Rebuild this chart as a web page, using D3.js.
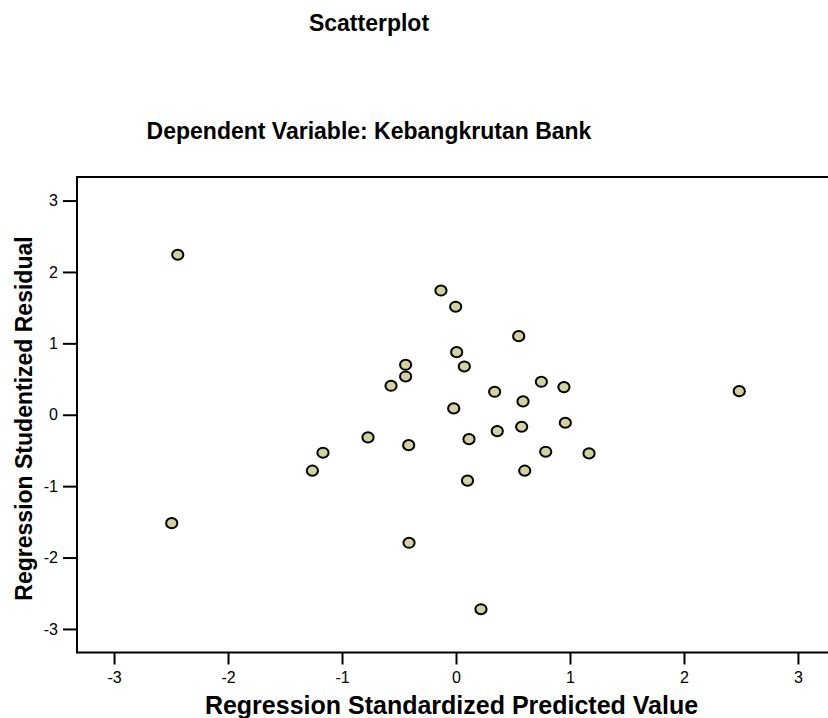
<!DOCTYPE html>
<html>
<head>
<meta charset="utf-8">
<script src="https://cdn.jsdelivr.net/npm/d3@7"></script>
<style>
  html, body { margin: 0; padding: 0; background: #fff; }
  svg { display: block; }
</style>
</head>
<body>
<svg id="chart" width="828" height="718"></svg>
<script>
const predicted = [-2.441, -2.494, -0.132, -0.003, 0.55, 0.006, 0.073, -0.442, -0.442, -0.570,
  0.339, -0.020, -0.772, -0.415, -1.167, -1.260, 0.114, 0.362, 0.101, 0.749,
  0.947, 0.588, 0.576, 0.959, 0.787, 1.167, 0.603, 2.485, -0.412, 0.219];
const residual = [2.241, -1.518, 1.74, 1.513, 1.101, 0.877, 0.676, 0.70, 0.536, 0.406,
  0.322, 0.088, -0.318, -0.426, -0.532, -0.784, -0.342, -0.230, -0.924, 0.462,
  0.387, 0.186, -0.168, -0.112, -0.518, -0.542, -0.784, 0.330, -1.793, -2.724];
const tickValues = [-3, -2, -1, 0, 1, 2, 3];
const chartTitle = "Scatterplot";
const chartSubtitle = "Dependent Variable: Kebangkrutan Bank";
const xLabel = "Regression Standardized Predicted Value";
const yLabel = "Regression Studentized Residual";

(function () {
  const svg = d3.select("#chart");
  const pLeft = 77, pTop = 177, pBottom = 652.5, pRight = 835;
  const font = "'Liberation Sans', Arial, Helvetica, sans-serif";

  const x = d3.scaleLinear().domain([-3.325, 3.325]).range([pLeft, pRight]);
  const y = d3.scaleLinear().domain([-3.33, 3.33]).range([pBottom, pTop]);

  // titles
  svg.append("text").attr("x", 369).attr("y", 31).attr("text-anchor", "middle")
    .attr("font-family", font).attr("font-weight", "bold").attr("font-size", 23).text(chartTitle);
  svg.append("text").attr("x", 369).attr("y", 139).attr("text-anchor", "middle")
    .attr("font-family", font).attr("font-weight", "bold").attr("font-size", 23).text(chartSubtitle);

  // frame (top border)
  svg.append("line").attr("x1", pLeft).attr("x2", 840).attr("y1", pTop).attr("y2", pTop)
    .attr("stroke", "#000").attr("stroke-width", 2);

  // axes
  const xAxis = d3.axisBottom(x).tickValues(tickValues).tickSize(12).tickPadding(7);
  const yAxis = d3.axisLeft(y).tickValues(tickValues).tickSize(14).tickPadding(5);

  const gx = svg.append("g").attr("transform", `translate(0,${pBottom})`).call(xAxis);
  const gy = svg.append("g").attr("transform", `translate(${pLeft},0)`).call(yAxis);

  gx.select(".domain").attr("d", `M${pLeft},0H840`).attr("stroke-width", 2);
  gy.select(".domain").attr("d", `M0,${pTop - 1}V${pBottom + 1}`).attr("stroke-width", 2);
  [gx, gy].forEach(g => {
    g.selectAll(".tick line").attr("stroke-width", 2);
    g.selectAll(".tick text").attr("font-family", font).attr("font-size", 16).attr("fill", "#000")
      .text(d => d < 0 ? "-" + Math.abs(d) : String(d));
  });

  // axis labels
  svg.append("text").attr("x", 451.5).attr("y", 714).attr("text-anchor", "middle")
    .attr("font-family", font).attr("font-weight", "bold").attr("font-size", 25).text(xLabel);
  svg.append("text").attr("transform", "translate(32,418.5) rotate(-90)").attr("text-anchor", "middle")
    .attr("font-family", font).attr("font-weight", "bold").attr("font-size", 23).text(yLabel);

  // points
  const pts = predicted.map((v, i) => ({ x: v, y: residual[i] }));
  svg.append("g").selectAll("ellipse").data(pts).join("ellipse")
    .attr("cx", d => x(d.x)).attr("cy", d => y(d.y))
    .attr("rx", 5.6).attr("ry", 5.1)
    .attr("fill", "#d5d09f").attr("stroke", "#000").attr("stroke-width", 2);
})();
</script>
</body>
</html>
